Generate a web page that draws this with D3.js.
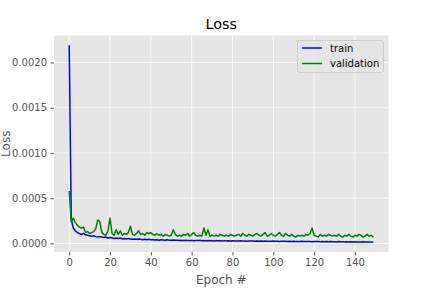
<!DOCTYPE html>
<html lang="en">
<head>
    <meta charset="UTF-8">
    <title>Loss</title>
    <script src="https://d3js.org/d3.v7.min.js"></script>
    <style>
        body { margin: 0; background: #fff; }
        svg { display: block; font-family: "DejaVu Sans", sans-serif; }
        .grid line { stroke: #fff; stroke-width: 0.8; }
        .tick text { fill: #555; font-size: 10px; }
        .tick line { stroke: #555; }
    </style>
</head>
<body>
    <svg id="chart" width="432" height="288"></svg>
    <script>
        // loss values per epoch
        const trainLoss = [
            0.00219, 0.00027, 0.00017, 0.00014, 0.00012, 0.00011, 0.00010, 0.00011, 0.000095, 0.00009,
            0.000085, 0.00008, 0.000085, 0.000075, 0.00007, 0.000075, 0.00007, 0.000065, 0.00007, 0.00006,
            0.000065, 0.00006, 0.000055, 0.00006, 0.000055, 0.00006, 0.00005, 0.000055, 0.00005, 0.000055,
            0.00005, 0.000045, 0.00005, 0.000045, 0.00005, 0.000045, 0.00004, 0.000045, 0.00004, 0.000045,
            0.00004, 0.000042, 0.000038, 0.00004, 0.000036, 0.00004, 0.000038, 0.000035, 0.00004, 0.000036,
            0.000035, 0.000038, 0.000034, 0.000036, 0.000033, 0.000035, 0.000032, 0.000036, 0.000033, 0.000031,
            0.000034, 0.00003, 0.000033, 0.000031, 0.000035, 0.00003, 0.000032, 0.000029, 0.000033, 0.00003,
            0.000031, 0.000028, 0.000032, 0.000029, 0.00003, 0.000027, 0.000031, 0.000028, 0.000029, 0.000027,
            0.00003, 0.000027, 0.000028, 0.000026, 0.000029, 0.000026, 0.000028, 0.000025, 0.000027, 0.000026,
            0.000028, 0.000025, 0.000026, 0.000024, 0.000027, 0.000025, 0.000026, 0.000023, 0.000025, 0.000024,
            0.000026, 0.000023, 0.000025, 0.000022, 0.000024, 0.000023, 0.000025, 0.000021, 0.000023, 0.000022,
            0.000024, 0.000021, 0.000022, 0.00002, 0.000023, 0.000021, 0.000022, 0.00002, 0.000021, 0.000019,
            0.000022, 0.00002, 0.000021, 0.000019, 0.00002, 0.000018, 0.000021, 0.000019, 0.00002, 0.000018,
            0.000019, 0.000017, 0.00002, 0.000018, 0.000019, 0.000017, 0.000018, 0.000016, 0.000019, 0.000017,
            0.000018, 0.000016, 0.000017, 0.000015, 0.000018, 0.000016, 0.000017, 0.000015, 0.000016, 0.000014
        ];
        const valLoss = [
            0.00058, 0.00024, 0.00028, 0.00023, 0.0002, 0.00018, 0.00017, 0.00018, 0.00012, 0.00013,
            0.00011, 0.00012, 0.00013, 0.00016, 0.00026, 0.00024, 0.00012, 0.0001, 0.00009, 0.00014,
            0.00028, 0.00011, 0.00009, 0.00015, 0.0001, 0.00014, 0.00009, 0.00011, 0.0001, 0.00012,
            0.00019, 0.0001, 0.00009, 0.00011, 0.00014, 0.0001, 0.00011, 0.00009, 0.00012, 0.00011,
            0.00012, 0.0001, 0.00009, 0.00011, 0.00009, 0.0001, 0.00008, 0.0001, 0.00009, 0.00008,
            0.00009, 0.00015, 0.0001, 0.00008, 0.00009, 0.00008, 0.0001, 0.00009, 0.00011, 0.00008,
            0.0001, 0.00012, 0.00009, 0.00008, 0.00009, 0.00008, 0.00017, 0.00009, 0.00015, 0.00008,
            0.00009, 0.00008, 0.00009, 0.00008, 0.0001, 0.00009, 0.00008, 0.00009, 0.00008, 0.0001,
            0.00009, 0.00008, 0.00009, 0.0001, 0.00008, 0.00011, 0.00009, 0.00008, 0.0001, 0.00009,
            0.00008, 0.0001, 0.00011, 0.00009, 0.00008, 0.0001, 0.00012, 0.00008, 0.00009, 0.00011,
            0.00009, 0.00008, 0.0001, 0.00012, 0.00009, 0.00008, 0.00011, 0.00009, 0.00008, 0.0001,
            0.00008, 0.00007, 0.00009, 0.00008, 0.00009, 0.00008, 0.0001, 0.00009, 0.00011, 0.00017,
            0.00009, 0.00008, 0.00007, 0.0001, 0.00008, 0.00009, 0.00008, 0.0001, 0.00009, 0.00008,
            0.00009, 0.00008, 0.0001, 0.00008, 0.00007, 0.00009, 0.00008, 0.0001, 0.00008, 0.00007,
            0.00009, 0.00008, 0.0001, 0.00009, 0.00007, 0.00008, 0.0001, 0.00008, 0.00009, 0.00007
        ];
        const xTicks = [0, 20, 40, 60, 80, 100, 120, 140];
        const yTicks = [0, 0.0005, 0.001, 0.0015, 0.002];
        const series = [
            { name: "train", values: trainLoss, color: "#0000ff" },
            { name: "validation", values: valLoss, color: "#008000" }
        ];

        const svg = d3.select("#chart");
        const margin = { left: 54, right: 43.5, top: 35.5, bottom: 36 };
        const width = 432 - margin.left - margin.right;
        const height = 288 - margin.top - margin.bottom;

        // matplotlib-style 5% padding on both axes
        const n = trainLoss.length;
        const xPad = (n - 1) * 0.05;
        const x = d3.scaleLinear().domain([-xPad, n - 1 + xPad]).range([0, width]);

        const all = trainLoss.concat(valLoss);
        const yMin = d3.min(all), yMax = d3.max(all);
        const yPad = (yMax - yMin) * 0.05;
        const y = d3.scaleLinear().domain([yMin - yPad, yMax + yPad]).range([height, 0]);

        const g = svg.append("g").attr("transform", `translate(${margin.left},${margin.top})`);

        // grey plot background
        g.append("rect").attr("width", width).attr("height", height).attr("fill", "#e5e5e5");

        // grid
        g.append("g").attr("class", "grid")
            .selectAll("line").data(xTicks).enter().append("line")
            .attr("x1", d => x(d)).attr("x2", d => x(d))
            .attr("y1", 0).attr("y2", height);
        g.append("g").attr("class", "grid")
            .selectAll("line").data(yTicks).enter().append("line")
            .attr("x1", 0).attr("x2", width)
            .attr("y1", d => y(d)).attr("y2", d => y(d));

        // axes
        const xAxis = g.append("g").attr("transform", `translate(0,${height})`)
            .call(d3.axisBottom(x).tickValues(xTicks).tickSize(3.5).tickPadding(3.5).tickFormat(d3.format("d")));
        const yAxis = g.append("g")
            .call(d3.axisLeft(y).tickValues(yTicks).tickSize(3.5).tickPadding(3.5).tickFormat(d => d.toFixed(4)));
        [xAxis, yAxis].forEach(a => {
            a.select(".domain").remove();
            a.selectAll("text").attr("font-family", "DejaVu Sans").attr("font-size", 10);
        });

        // lines
        const line = d3.line().x((d, i) => x(i)).y(d => y(d));
        g.selectAll(".series").data(series).enter().append("path")
            .attr("fill", "none")
            .attr("stroke", d => d.color)
            .attr("stroke-width", 1.5)
            .attr("stroke-linejoin", "round")
            .attr("d", d => line(d.values));

        // title and axis labels
        svg.append("text").attr("x", margin.left + width / 2).attr("y", 29)
            .attr("text-anchor", "middle").attr("font-size", 14.4).attr("fill", "#000").text("Loss");
        svg.append("text").attr("x", margin.left + width / 2).attr("y", 284)
            .attr("text-anchor", "middle").attr("font-size", 12).attr("fill", "#555").text("Epoch #");
        svg.append("text").attr("transform", `translate(10,${margin.top + height / 2}) rotate(-90)`)
            .attr("text-anchor", "middle").attr("font-size", 12).attr("fill", "#555").text("Loss");

        // legend
        const lg = g.append("g").attr("transform", `translate(${width - 5 - 86},5)`);
        lg.append("rect").attr("width", 86).attr("height", 32).attr("rx", 2)
            .attr("fill", "#e5e5e5").attr("fill-opacity", 0.8).attr("stroke", "#ccc").attr("stroke-width", 1);
        series.forEach((s, i) => {
            const yy = 7.5 + i * 15.5;
            lg.append("line").attr("x1", 4.5).attr("x2", 24.5).attr("y1", yy).attr("y2", yy)
                .attr("stroke", s.color).attr("stroke-width", 1.5);
            lg.append("text").attr("x", 32.5).attr("y", yy + 3.5)
                .attr("font-size", 10).attr("fill", "#000").text(s.name);
        });
    </script>
</body>
</html>
